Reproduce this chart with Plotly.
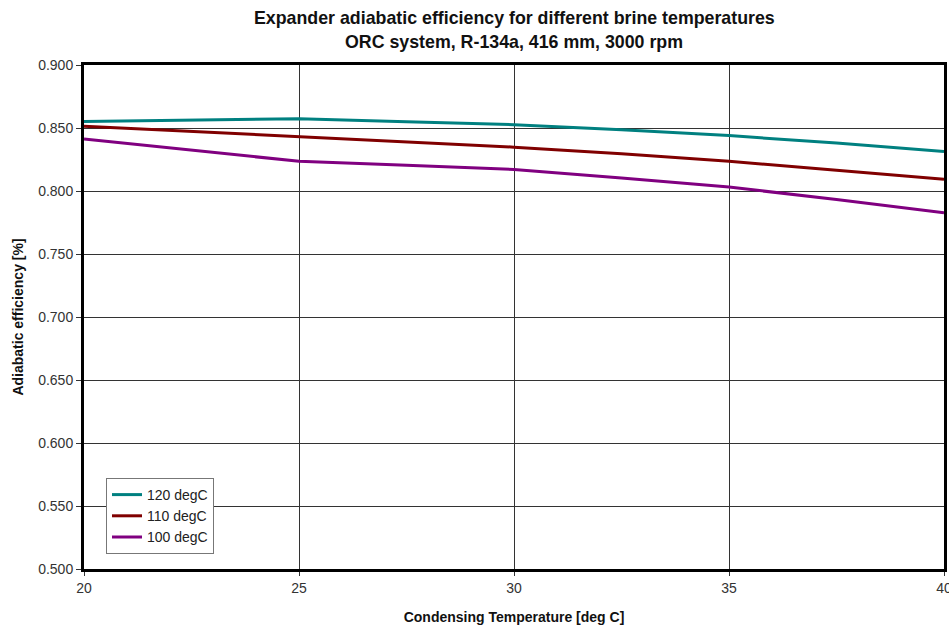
import plotly.graph_objects as go

temps = [20, 22.5, 25, 27.5, 30, 32.5, 35, 37.5, 40]
eff_120 = [0.8551, 0.8563, 0.8574, 0.8550, 0.8526, 0.8486, 0.8440, 0.8380, 0.8314]
eff_110 = [0.8514, 0.8472, 0.8427, 0.8390, 0.8348, 0.8296, 0.8236, 0.8164, 0.8093]
eff_100 = [0.8412, 0.8322, 0.8236, 0.8204, 0.8171, 0.8104, 0.8031, 0.7933, 0.7827]
series_names = ["120 degC", "110 degC", "100 degC"]
series_colors = ["#008080", "#800000", "#800080"]
title_lines = ["Expander adiabatic efficiency for different brine temperatures",
               "ORC system, R-134a, 416 mm, 3000 rpm"]

fig = go.Figure()
for name, vals, col in zip(series_names, [eff_120, eff_110, eff_100], series_colors):
    fig.add_trace(go.Scatter(x=temps, y=vals, mode="lines", name=name,
                             line=dict(color=col, width=3)))

font_family = "Liberation Sans, Arial, sans-serif"
fig.update_layout(
    width=949, height=630,
    margin=dict(l=84, r=5, t=65, b=61, autoexpand=False),
    paper_bgcolor="white", plot_bgcolor="white",
    font=dict(family=font_family, size=14, color="#222"),
    showlegend=True,
    legend=dict(x=(106-84)/860, y=(569-478)/504, xref="paper", yref="paper",
                xanchor="left", yanchor="top",
                bgcolor="white", bordercolor="#777", borderwidth=1,
                font=dict(size=14, color="#222"),
                tracegroupgap=0, itemwidth=30),
)
for i, line in enumerate(title_lines):
    fig.add_annotation(text="<b>" + line + "</b>", xref="paper", yref="paper",
                       x=0.5, y=1 + (65 - (18 + 24 * i)) / 504,
                       xanchor="center", yanchor="middle", showarrow=False,
                       font=dict(size=17.8, color="#111", family=font_family))
fig.update_xaxes(range=[20, 40], tickvals=[20, 25, 30, 35, 40],
                 showgrid=True, gridcolor="#333", gridwidth=1,
                 showline=True, linecolor="black", linewidth=3, mirror=True,
                 ticks="outside", ticklen=4, tickcolor="#333",
                 zeroline=False, automargin=False, ticklabeloverflow="allow",
                 title=dict(text="<b>Condensing Temperature [deg C]</b>", font=dict(size=14, color="#111"), standoff=18),
                 tickfont=dict(size=14, color="#333"))
fig.update_yaxes(range=[0.5, 0.9], dtick=0.05, tickformat=".3f",
                 showgrid=True, gridcolor="#333", gridwidth=1,
                 showline=True, linecolor="black", linewidth=3, mirror=True,
                 ticks="outside", ticklen=5, tickcolor="#333",
                 zeroline=False, automargin=False,
                 title=dict(text="<b>Adiabatic efficiency [%]</b>", font=dict(size=14, color="#111"), standoff=12),
                 tickfont=dict(size=14, color="#333"))

fig.write_html("out.html")
